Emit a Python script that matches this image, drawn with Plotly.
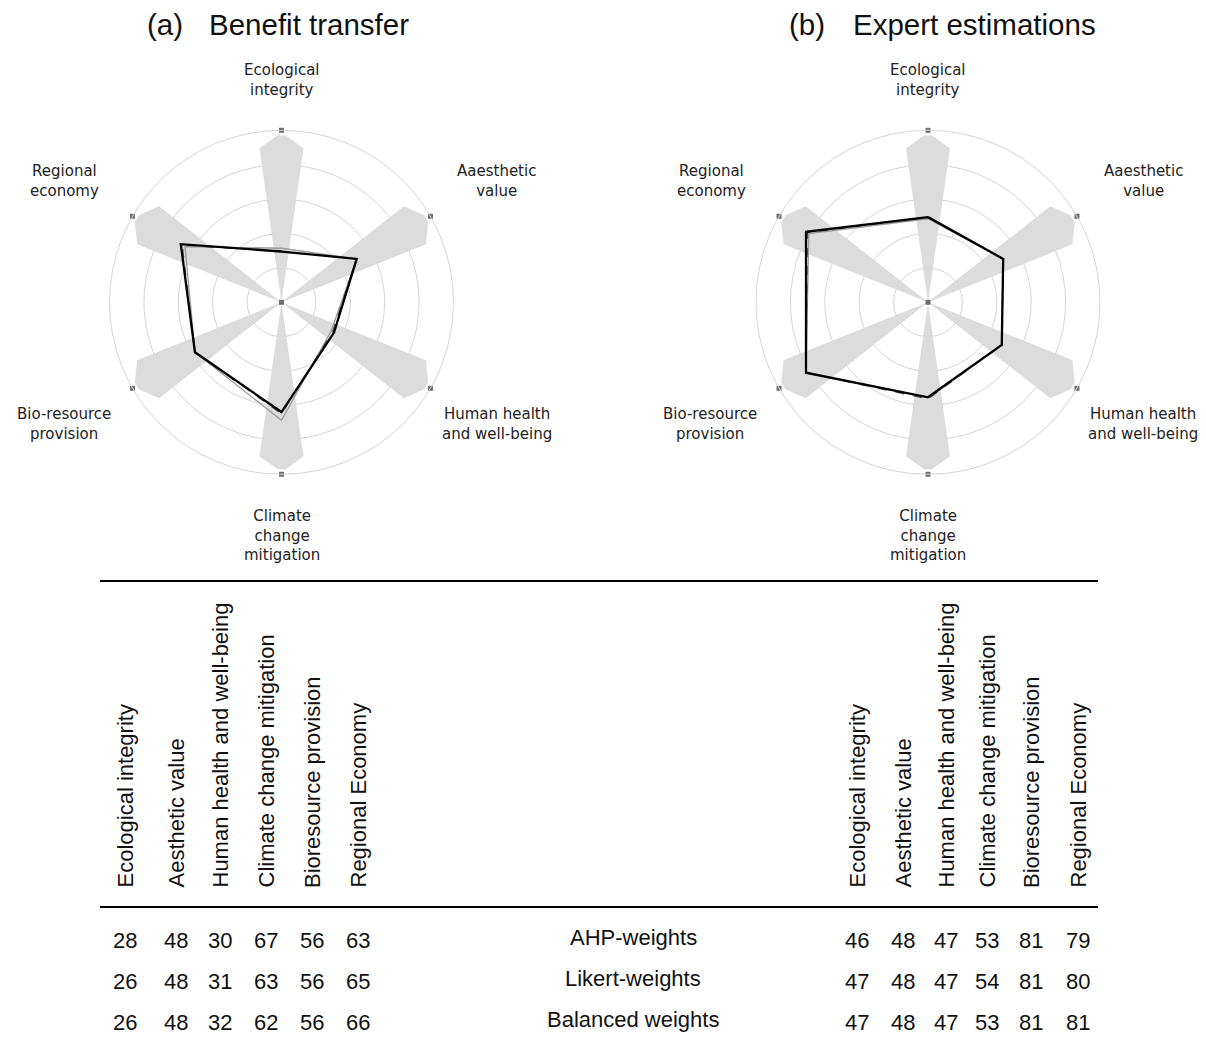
import math
import plotly.graph_objects as go

# ---- data -------------------------------------------------------------
radar_labels = [
    "Ecological<br>integrity",
    "Aaesthetic<br>value",
    "Human health<br>and well-being",
    "Climate<br>change<br>mitigation",
    "Bio-resource<br>provision",
    "Regional<br>economy",
]
table_headers = [
    "Ecological integrity",
    "Aesthetic value",
    "Human health and well-being",
    "Climate change mitigation",
    "Bioresource provision",
    "Regional Economy",
]
methods = ["AHP-weights", "Likert-weights", "Balanced weights"]

benefit_ahp = [28, 48, 30, 67, 56, 63]
benefit_likert = [26, 48, 31, 63, 56, 65]
benefit_balanced = [26, 48, 32, 62, 56, 66]

expert_ahp = [46, 48, 47, 53, 81, 79]
expert_likert = [47, 48, 47, 54, 81, 80]
expert_balanced = [47, 48, 47, 53, 81, 81]

panels = [
    ("(a)", "Benefit transfer", [benefit_ahp, benefit_likert, benefit_balanced]),
    ("(b)", "Expert estimations", [expert_ahp, expert_likert, expert_balanced]),
]

# ---- layout constants -------------------------------------------------
W, H = 1206, 1039
R_PX = 172                     # radar radius in pixels
CENTERS = [(281.5, 302.3), (928.0, 302.3)]
R_MIN, R_MAX = -5, 100
ANGLES = [0, 60, 120, 180, 240, 300]   # clockwise from top

series_style = [
    dict(color="#9a9a9a", width=1.3, dash="solid"),
    dict(color="#555555", width=1.3, dash="dash"),
    dict(color="#000000", width=2.3, dash="solid"),
]


def px(x):
    return x / W


def py(y):
    return 1 - y / H


def frac_to_r(f):
    return R_MIN + f * (R_MAX - R_MIN)


# petal outline: (distance along spoke, offset across spoke) in pixels
PETAL = [(0, 0), (154, -22), (167, -4), (167, 4), (154, 22), (0, 0)]

fig = go.Figure()
annotations = []
shapes = []

label_offsets = [(0, -222), (215, -121), (215, 122), (0, 233), (-218, 122), (-217, -121)]
title_pos = [((145, 207), 24), ((787, 851), 24)]
title_font = dict(family="Liberation Sans", size=29.5, color="#111")

for i, (tag, title, series) in enumerate(panels):
    cx, cy = CENTERS[i]
    pid = "polar" if i == 0 else "polar2"
    sub = "polar" if i == 0 else "polar2"

    # background petals along each spoke
    for a in ANGLES:
        rr, tt = [], []
        for d, p in PETAL:
            dist = math.hypot(d, p)
            off = math.degrees(math.atan2(p, d)) if dist > 0 else 0
            rr.append(frac_to_r(dist / R_PX))
            tt.append(a + off)
        fig.add_trace(go.Scatterpolar(
            r=rr, theta=tt, mode="lines", fill="toself",
            fillcolor="#dcdcdc", line=dict(width=0, color="#dcdcdc"),
            hoverinfo="skip", showlegend=False, subplot=sub))

    # weighting series
    for vals, name, st in zip(series, methods, series_style):
        fig.add_trace(go.Scatterpolar(
            r=vals + vals[:1], theta=ANGLES + ANGLES[:1], mode="lines",
            name=name, line=st, showlegend=False, subplot=sub))

    # spoke end markers and centre marker
    fig.add_trace(go.Scatterpolar(
        r=[R_MAX] * 6 + [R_MIN], theta=ANGLES + [0], mode="markers",
        marker=dict(symbol="square", size=5, color="#6e6e6e"),
        hoverinfo="skip", showlegend=False, subplot=sub))

    # polar area
    polar_cfg = dict(
        domain=dict(x=[px(cx - R_PX), px(cx + R_PX)],
                    y=[py(cy + R_PX), py(cy - R_PX)]),
        bgcolor="rgba(0,0,0,0)",
        radialaxis=dict(range=[R_MIN, R_MAX], tickvals=[16, 37, 58, 79],
                        showticklabels=False, ticks="", showline=False,
                        gridcolor="#d6d6d6", gridwidth=1),
        angularaxis=dict(rotation=90, direction="clockwise",
                         showgrid=False, showticklabels=False, ticks="",
                         showline=True, linecolor="#d6d6d6", linewidth=1),
    )
    fig.update_layout(**{pid: polar_cfg})

    # category labels around the radar
    for lab, (dx, dy) in zip(radar_labels, label_offsets):
        annotations.append(dict(
            x=px(cx + dx), y=py(cy + dy), xref="paper", yref="paper",
            text=lab, showarrow=False, xanchor="center", yanchor="middle",
            font=dict(family="DejaVu Sans", size=15, color="#222222")))

    # panel title
    (xt, xs), yt = title_pos[i]
    annotations.append(dict(x=px(xt), y=py(yt), xref="paper", yref="paper",
                            text=tag, showarrow=False, xanchor="left", yanchor="middle",
                            font=title_font))
    annotations.append(dict(x=px(xs), y=py(yt), xref="paper", yref="paper",
                            text=title, showarrow=False, xanchor="left", yanchor="middle",
                            font=title_font))

# ---- table below the radars ------------------------------------------
col_x = [[125, 176, 220, 266, 312, 358], [857, 903, 946, 987, 1031, 1078]]
row_y = [940, 981, 1022]
label_y = [937, 978, 1019]
tfont = dict(family="Liberation Sans", size=22, color="#111")

for i, (_, _, series) in enumerate(panels):
    for x, head in zip(col_x[i], table_headers):
        annotations.append(dict(x=px(x), y=py(890), xref="paper", yref="paper",
                                text=head, textangle=-90, showarrow=False,
                                xanchor="center", yanchor="bottom", font=tfont))
    for vals, y in zip(series, row_y):
        for x, v in zip(col_x[i], vals):
            annotations.append(dict(x=px(x), y=py(y), xref="paper", yref="paper",
                                    text=str(v), showarrow=False,
                                    xanchor="center", yanchor="middle", font=tfont))

for name, y in zip(methods, label_y):
    annotations.append(dict(x=px(633), y=py(y), xref="paper", yref="paper",
                            text=name, showarrow=False,
                            xanchor="center", yanchor="middle", font=tfont))

for y in (581, 907):
    shapes.append(dict(type="line", xref="paper", yref="paper",
                       x0=px(100), x1=px(1098), y0=py(y), y1=py(y),
                       line=dict(color="#000", width=2)))

fig.update_layout(
    width=W, height=H,
    margin=dict(l=0, r=0, t=0, b=0),
    paper_bgcolor="white", plot_bgcolor="white",
    showlegend=False,
    annotations=annotations, shapes=shapes,
)

fig.write_html("out.html")
